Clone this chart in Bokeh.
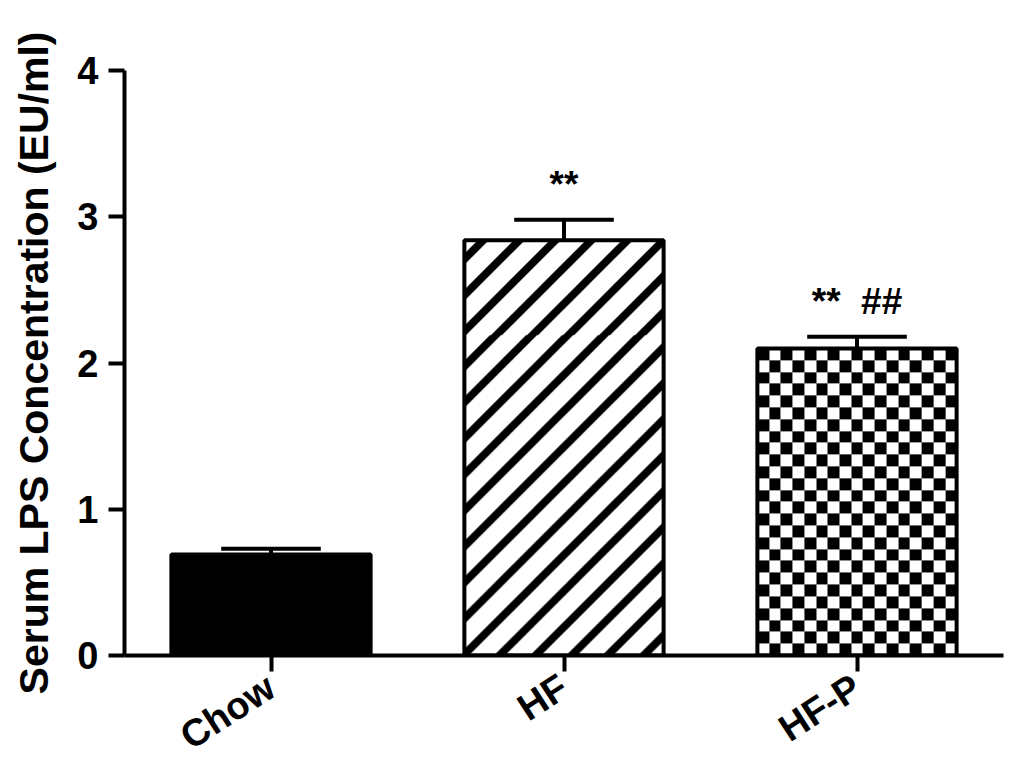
import numpy as np
from bokeh.plotting import figure
from bokeh.models import Range1d, FixedTicker, ColumnDataSource
from bokeh.core.properties import value
from bokeh.embed import file_html
from bokeh.resources import INLINE

# ---- data ----
categories = ["Chow", "HF", "HF-P"]
means = [0.69, 2.84, 2.10]
sems = [0.04, 0.14, 0.08]
annotations = ["", "**", "**\u00a0\u00a0##"]
y_ticks = [0, 1, 2, 3, 4]
y_label = "Serum LPS Concentration (EU/ml)"

FONT = "Liberation Sans"
xs = [i + 0.5 for i in range(len(categories))]
bar_w = 0.68
cap_w = 0.34

W, H = 1024, 778
BL, BR, BT, BB = 124, 21, 70, 122

p = figure(width=W, height=H, output_backend="svg", toolbar_location=None,
           x_range=Range1d(0, len(categories)), y_range=Range1d(0, 4),
           min_border_left=BL, min_border_right=BR, min_border_top=BT, min_border_bottom=BB)
p.outline_line_color = None
p.xgrid.visible = False
p.ygrid.visible = False
p.background_fill_color = "white"

x_px = W - BL - BR
y_px = H - BT - BB
BLACK = np.uint32(0xFF000000)
WHITE = np.uint32(0xFFFFFFFF)


def bar_pixels(v):
    return int(round(bar_w * x_px / len(categories))), int(round(v * y_px / 4))


# Chow: solid black
p.vbar(x=[xs[0]], top=[means[0]], width=bar_w, fill_color="black", line_color="black", line_width=4)

# HF: 45-degree diagonal stripes ("/") as a pixel texture
bw, bh = bar_pixels(means[1])
cols = np.arange(bw)[None, :]
rows = np.arange(bh)[:, None]
stripe = ((cols - rows + 6) % 36) < 11
img_hf = np.where(stripe, BLACK, WHITE).astype(np.uint32)
p.image_rgba(image=[img_hf], x=xs[1] - bar_w / 2, y=0, dw=bar_w, dh=means[1])
p.vbar(x=[xs[1]], top=[means[1]], width=bar_w, fill_alpha=0, line_color="black", line_width=4)

# HF-P: checkerboard texture
bw, bh = bar_pixels(means[2])
cell = 12
ncols = int(round(bw / 11.7))
nrows = int(round(bh / 11.7))
chk = (np.add.outer(np.arange(nrows), np.arange(ncols)) % 2).astype(np.uint32)
chk = np.kron(chk, np.ones((cell, cell), dtype=np.uint32))
img_hfp = np.where(chk == 1, BLACK, WHITE).astype(np.uint32)
p.image_rgba(image=[img_hfp], x=xs[2] - bar_w / 2, y=0, dw=bar_w, dh=means[2])
p.vbar(x=[xs[2]], top=[means[2]], width=bar_w, fill_alpha=0, line_color="black", line_width=4)

# error bars (upper only)
tops = [m + s for m, s in zip(means, sems)]
p.segment(x0=xs, y0=means, x1=xs, y1=tops, line_color="black", line_width=4)
p.segment(x0=[x - cap_w / 2 for x in xs], y0=tops, x1=[x + cap_w / 2 for x in xs], y1=tops,
          line_color="black", line_width=4)

# significance labels
src = ColumnDataSource(dict(x=xs, y=[t + 0.24 for t in tops], text=annotations))
p.text(x="x", y="y", text="text", source=src, text_font=value(FONT), text_font_style="bold",
       text_font_size="37px", text_align="center", text_baseline="alphabetic", text_color="black")

# axes
for ax in (p.xaxis[0], p.yaxis[0]):
    ax.axis_line_width = 4
    ax.axis_line_color = "black"
    ax.major_tick_line_width = 4
    ax.major_tick_line_color = "black"
    ax.major_tick_in = 0
    ax.major_tick_out = 16
    ax.minor_tick_line_color = None
    ax.major_label_text_font = FONT
    ax.major_label_text_font_style = "bold"
    ax.major_label_text_color = "black"

p.yaxis.major_label_text_font_size = "38px"
p.yaxis.ticker = FixedTicker(ticks=y_ticks)
p.yaxis.major_label_standoff = 10
p.yaxis.axis_label = y_label
p.yaxis.axis_label_text_font = FONT
p.yaxis.axis_label_text_font_style = "bold"
p.yaxis.axis_label_text_font_size = "41px"
p.yaxis.axis_label_text_color = "black"
p.yaxis.axis_label_standoff = 17

p.xaxis.major_label_text_font_size = "38px"
p.xaxis.ticker = FixedTicker(ticks=xs)
p.xaxis.major_label_overrides = {x: c for x, c in zip(xs, categories)}
p.xaxis.major_label_orientation = np.deg2rad(33)
p.xaxis.major_label_standoff = 12

open("out.html", "w").write(file_html(p, INLINE))
